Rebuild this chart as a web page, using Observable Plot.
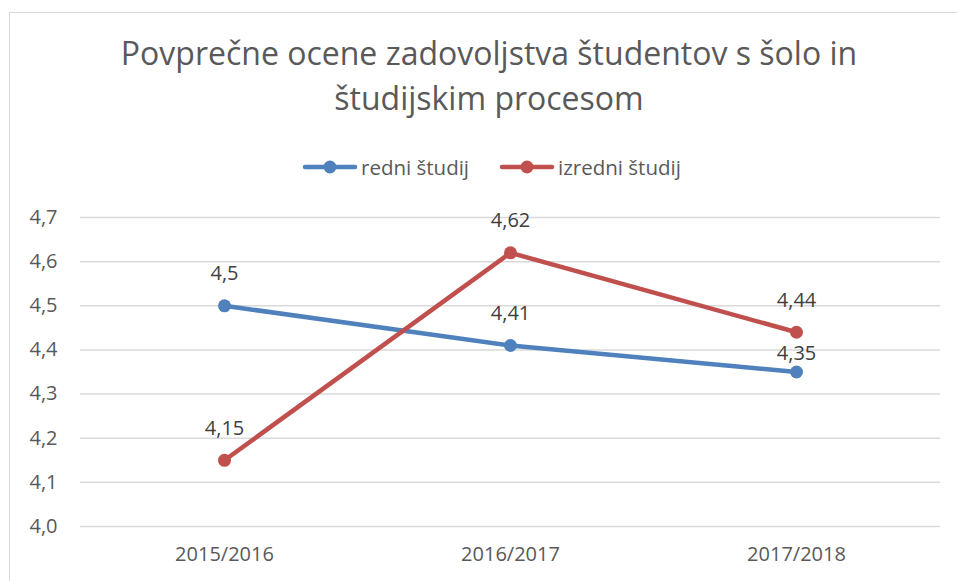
<!DOCTYPE html>
<html><head><meta charset="utf-8">
<script src="https://cdn.jsdelivr.net/npm/d3@7"></script>
<script src="https://cdn.jsdelivr.net/npm/@observablehq/plot@0.6"></script>
<style>
body{margin:0;width:957px;height:581px;overflow:hidden;background:#fff;font-family:"Open Sans", sans-serif;position:relative}
#frame{position:absolute;left:9px;top:12px;width:1000px;height:700px;border:1.5px solid #d9d9d9;box-sizing:border-box}
#title{position:absolute;left:0;width:978px;top:30px;text-align:center;font-size:32px;line-height:45px;color:#595959;font-weight:400}
#legend{position:absolute;top:153px;left:302px;display:flex;align-items:center;font-size:20.5px;color:#595959;white-space:nowrap}
#legend .item{display:flex;align-items:center;margin-right:30px}
#legend svg{margin-right:3px}
#chart{position:absolute;left:0;top:190px}
</style></head>
<body>
<div id="frame"></div>
<div id="title">Povprečne ocene zadovoljstva študentov s šolo in<br>študijskim procesom</div>
<div id="legend"></div>
<div id="chart"></div>
<script>
const years = ["2015/2016", "2016/2017", "2017/2018"];
const seriesNames = ["redni študij", "izredni študij"];
const redni = [4.5, 4.41, 4.35];
const izredni = [4.15, 4.62, 4.44];
const yTicks = [4.0, 4.1, 4.2, 4.3, 4.4, 4.5, 4.6, 4.7];
const colors = ["#4f81bd", "#c0504d"];

const data = [
  ...years.map((y, i) => ({year: y, value: redni[i], series: seriesNames[0]})),
  ...years.map((y, i) => ({year: y, value: izredni[i], series: seriesNames[1]}))
];
const comma = v => String(v).replace(".", ",");
const tickFmt = v => d3.format(".1f")(v).replace(".", ",");

// a label sits lower when the other series' point just above would collide with it
const crowded = d => data.some(o => o.year === d.year && o.series !== d.series && o.value > d.value && o.value - d.value < 0.12);

// legend
const legend = document.getElementById("legend");
seriesNames.forEach((name, i) => {
  const item = document.createElement("div");
  item.className = "item";
  item.innerHTML = `<svg width="56" height="16"><line x1="3" y1="8" x2="53" y2="8" stroke="${colors[i]}" stroke-width="4.5" stroke-linecap="round"/><circle cx="28" cy="8" r="6.5" fill="${colors[i]}"/></svg><span>${name}</span>`;
  legend.appendChild(item);
});

const chart = Plot.plot({
  width: 957,
  height: 391,
  marginTop: 27,
  marginBottom: 55,
  marginLeft: 80,
  marginRight: 17,
  style: {fontFamily: "'Open Sans', sans-serif", fontSize: "20px", color: "#595959", background: "transparent", overflow: "visible"},
  x: {type: "point", domain: years, padding: 0.5, label: null, tickSize: 0, tickPadding: 20},
  y: {domain: [4.0, 4.7], ticks: yTicks, tickFormat: tickFmt, label: null, tickSize: 0, tickPadding: 23},
  color: {domain: seriesNames, range: colors},
  marks: [
    Plot.gridY(yTicks, {stroke: "#d9d9d9", strokeOpacity: 1, strokeWidth: 1.5}),
    Plot.line(data, {x: "year", y: "value", z: "series", stroke: "series", strokeWidth: 4.5}),
    Plot.dot(data, {x: "year", y: "value", fill: "series", r: 6.5}),
    Plot.text(data.filter(d => !crowded(d)), {x: "year", y: "value", text: d => comma(d.value), dy: -32, fill: "#404040", fontSize: 20}),
    Plot.text(data.filter(crowded), {x: "year", y: "value", text: d => comma(d.value), dy: -18, fill: "#404040", fontSize: 20})
  ]
});
document.getElementById("chart").appendChild(chart);
</script>
</body></html>
